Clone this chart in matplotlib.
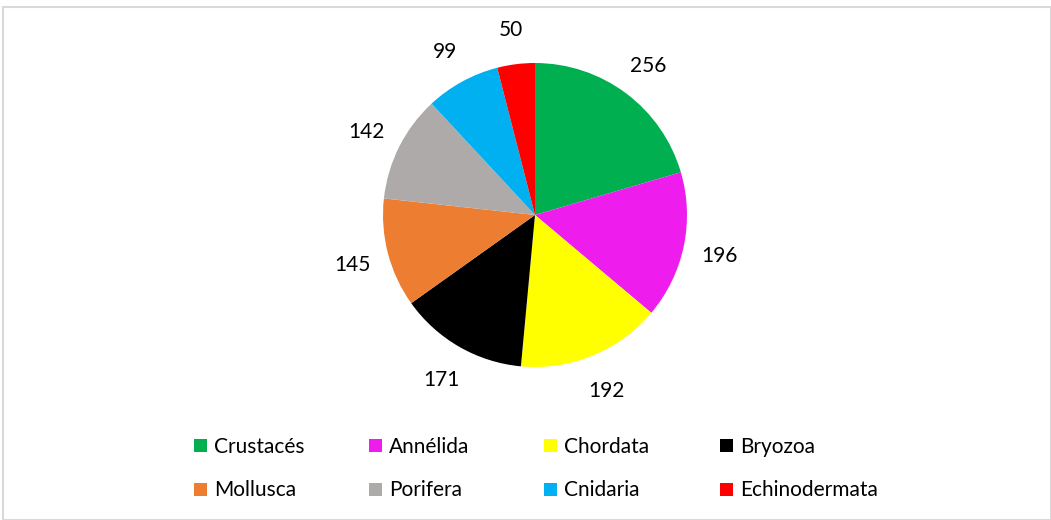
import matplotlib.pyplot as plt
from matplotlib.patches import Patch, Rectangle

plt.rcParams['font.family'] = ['Lato', 'DejaVu Sans']

groups = ['Crustacés', 'Annélida', 'Chordata', 'Bryozoa',
          'Mollusca', 'Porifera', 'Cnidaria', 'Echinodermata']
counts = [256, 196, 192, 171, 145, 142, 99, 50]
colors = ['#00b050', '#ee1ded', '#ffff00', '#000000',
          '#ed7d31', '#aeaaaa', '#00b0f0', '#ff0000']

W, H = 1051, 520
fig = plt.figure(figsize=(W / 100, H / 100), dpi=100)

# light grey chart frame
fig.patches.append(Rectangle((3 / W, 0), 1 - 3 / W, (H - 7) / H,
                             transform=fig.transFigure, fill=False,
                             edgecolor='#d9d9d9', linewidth=1.5))

# pie axes: centre (535, 215) px, radius 152 px
cx, cy, r = 535, 215, 152
ax = fig.add_axes([(cx - r) / W, (H - cy - r) / H, 2 * r / W, 2 * r / H])
wedges, texts = ax.pie(counts, colors=colors, startangle=90, counterclock=False,
                       labels=[str(c) for c in counts], labeldistance=1.24,
                       textprops=dict(fontsize=15, color='black'),
                       wedgeprops=dict(linewidth=0))
ax.set_xlim(-1, 1)
ax.set_ylim(-1, 1)
ax.set_aspect('equal')
for t in texts:
    t.set_ha('center')
    t.set_va('center_baseline')

# legend laid out like Excel: 4 equal-width columns, filled row by row
handles = [Patch(facecolor=c, edgecolor='none') for c in colors]
col_x = [194, 369, 544, 720]
for j, x in enumerate(col_x):
    leg = fig.legend(handles[j::4], groups[j::4], loc='center left',
                     bbox_to_anchor=(x / W, 1 - 468.5 / H), frameon=False,
                     fontsize=15, handlelength=0.6, handleheight=0.6,
                     handletextpad=0.35, labelspacing=1.15,
                     borderpad=0, borderaxespad=0)

fig.savefig('out.png', dpi=100)
